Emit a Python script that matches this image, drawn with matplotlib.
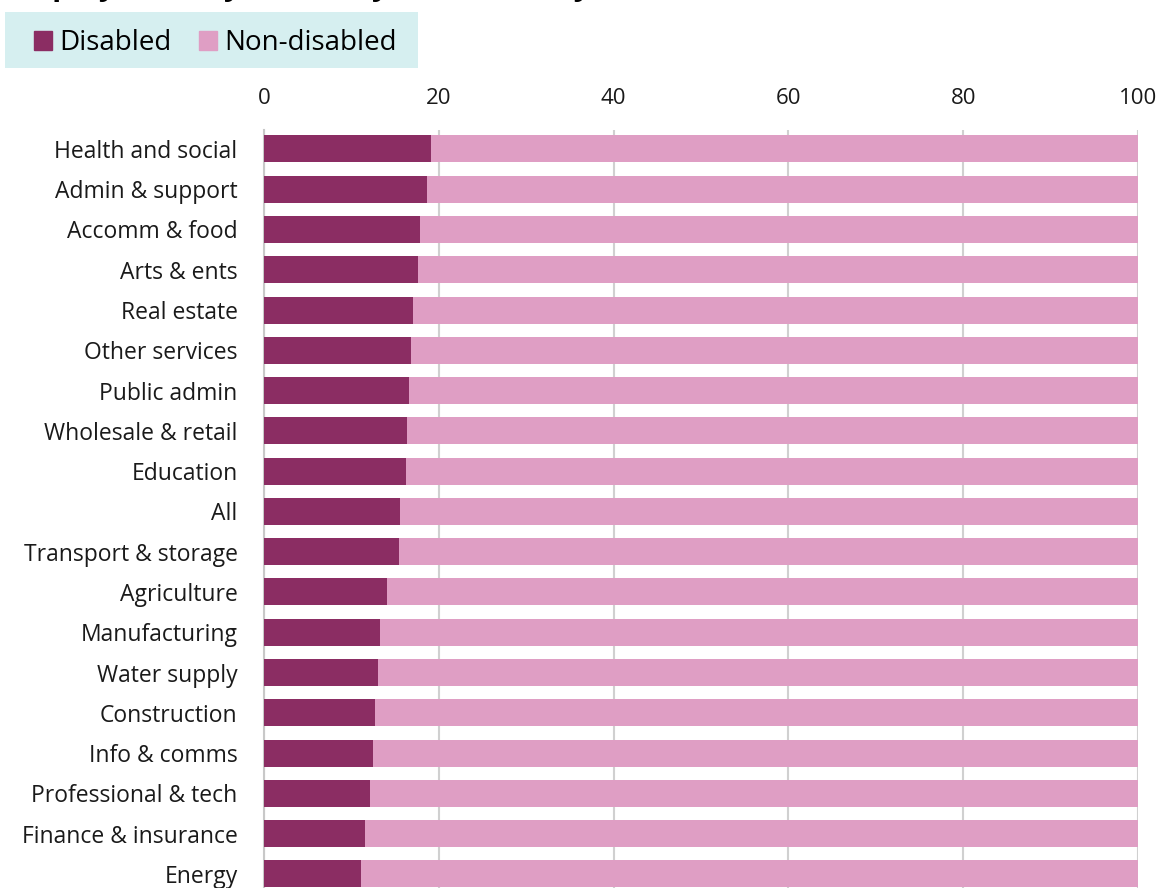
import numpy as np
from matplotlib import pyplot as plt
from matplotlib.patches import Patch, Rectangle

plt.close("all")
plt.rcParams['font.family'] = ['Open Sans', 'DejaVu Sans']

# share of workers in each industry (%)
industries = ['Health and social', 'Admin & support', 'Accomm & food', 'Arts & ents',
              'Real estate', 'Other services', 'Public admin', 'Wholesale & retail',
              'Education', 'All', 'Transport & storage', 'Agriculture', 'Manufacturing',
              'Water supply', 'Construction', 'Info & comms', 'Professional & tech',
              'Finance & insurance', 'Energy']
disabled = [19.1, 18.7, 17.9, 17.6, 17.1, 16.8, 16.6, 16.4, 16.3, 15.6, 15.5,
            14.1, 13.3, 13.0, 12.7, 12.5, 12.1, 11.6, 11.1]
non_disabled = [100 - d for d in disabled]
x_ticks = [0, 20, 40, 60, 80, 100]

c_dis = '#8b2d63'
c_non = '#df9ec4'

W, H = 1162, 888
fig = plt.figure(figsize=(W / 100, H / 100), dpi=100)
ax = fig.add_axes([0.2272, 0.0, 0.9793 - 0.2272, 1 - 130 / H])

y = np.arange(len(industries))
ax.barh(y, disabled, height=0.67, color=c_dis, zorder=3)
ax.barh(y, non_disabled, left=disabled, height=0.67, color=c_non, zorder=3)

ax.set_xlim(0, 100)
ax.set_ylim(18.35, -0.47)
ax.set_yticks(y)
ax.set_yticklabels(industries, fontsize=16.5, color='#1a1a1a')
ax.set_xticks(x_ticks)
ax.xaxis.tick_top()
ax.tick_params(axis='x', length=0, pad=15, labelsize=16, labelcolor='#1a1a1a')
ax.tick_params(axis='y', length=0, pad=19)
ax.grid(axis='x', color='#d0d0d0', linewidth=1.5, zorder=0)
for s in ['top', 'right', 'bottom']:
    ax.spines[s].set_visible(False)
ax.spines['left'].set_color('#c8c8c8')
ax.spines['left'].set_linewidth(1.5)

# title, cropped off the top of the picture in the original
fig.text(0.004, 1.006, 'Employment by disability and industry', fontsize=22,
         fontweight='bold', va='baseline', ha='left')

# legend on a pale teal panel
fig.patches.append(Rectangle((5 / W, 1 - 68 / H), 413 / W, 56 / H,
                             transform=fig.transFigure, facecolor='#d6eff0',
                             edgecolor='none', zorder=0))
handles = [Patch(color=c_dis, label='Disabled'), Patch(color=c_non, label='Non-disabled')]
leg = fig.legend(handles=handles, loc='center left', bbox_to_anchor=(34 / W, 1 - 43 / H),
                 ncol=2, frameon=False, fontsize=20,
                 handlelength=0.65, handleheight=0.65, handletextpad=0.25,
                 columnspacing=1.0, borderpad=0, borderaxespad=0)

fig.savefig('out.png', dpi=100)
